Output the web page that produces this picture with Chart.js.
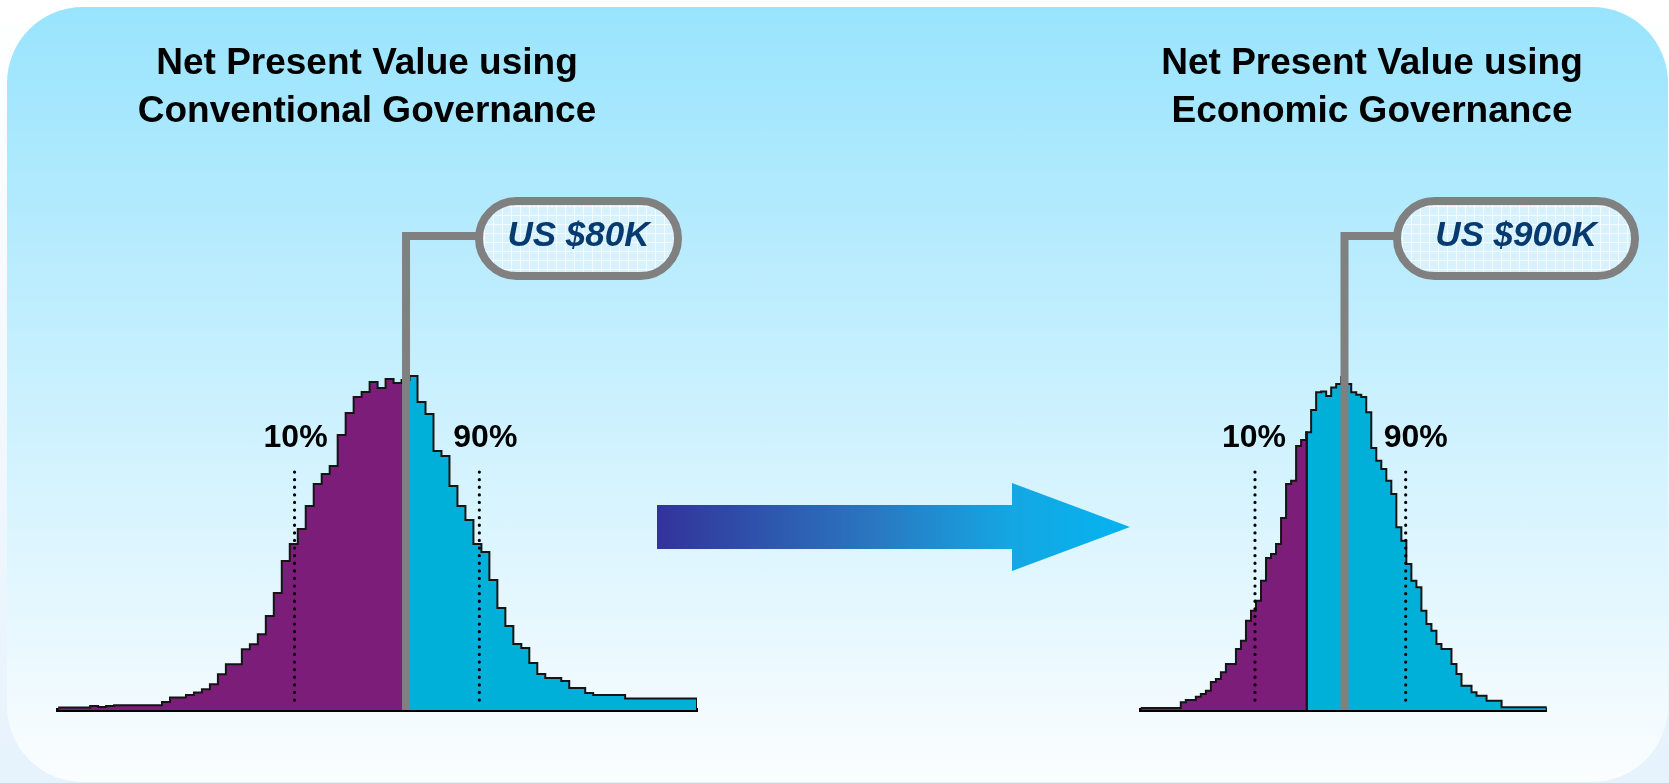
<!DOCTYPE html>
<html>
<head>
<meta charset="utf-8">
<script src="https://cdn.jsdelivr.net/npm/chart.js@4.4.1/dist/chart.umd.min.js"></script>
<style>
  html, body { margin: 0; padding: 0; }
  body {
    width: 1669px; height: 783px; overflow: hidden; position: relative;
    background: linear-gradient(#ffffff, #e6f2fc);
    font-family: "Liberation Sans", Arial, sans-serif;
  }
  #panel {
    position: absolute; left: 7px; top: 7px; width: 1661px; height: 775px;
    border-radius: 76px; background: linear-gradient(#99e4fd, #fbfdff);
  }
  #arrow { position: absolute; left: 0; top: 0; }
  .wrap { position: absolute; top: 0; height: 783px; }
  #wrap-conventional { left: 20px; width: 700px; }
  #wrap-economic { left: 1100px; width: 569px; }
</style>
</head>
<body>
<div id="panel"></div>
<svg id="arrow" width="1669" height="783">
  <defs>
    <linearGradient id="arrowFill" gradientUnits="userSpaceOnUse" x1="657" y1="0" x2="1130" y2="0">
      <stop offset="0" stop-color="#32339a"/>
      <stop offset="0.45" stop-color="#2a76bf"/>
      <stop offset="0.75" stop-color="#14a7e3"/>
      <stop offset="1" stop-color="#05b3ef"/>
    </linearGradient>
  </defs>
  <polygon fill="url(#arrowFill)" points="657,505 1012,505 1012,483 1130,527 1012,571 1012,549 657,549"/>
</svg>
<div class="wrap" id="wrap-conventional"><canvas id="chart-conventional"></canvas></div>
<div class="wrap" id="wrap-economic"><canvas id="chart-economic"></canvas></div>

<script>
// NPV histograms (bin index on x, frequency on y)
const conventionalBins = [
  2.4, 2.4, 2.4, 2.4, 4, 3, 4, 4.7, 4.7, 4.7,
  4.7, 4.7, 4.7, 8, 12.4, 12.4, 15, 17.4, 20.7, 25.7,
  35.7, 45.7, 45.7, 60.7, 65.7, 75.7, 94, 117, 149, 166,
  181, 204, 226, 236, 244, 275, 297, 313, 318, 328,
  322, 331, 327, 330, 334, 308, 296, 259, 254, 224,
  204, 190, 166, 158, 130, 102, 84, 66, 62, 47,
  36, 32, 32, 29, 22, 22, 17, 15, 15, 15,
  15, 11.4, 11.4, 11.4, 11.4, 11.4, 11.4, 11.4, 11.4, 11.4
];
const conventionalSplit = 43.56;
const conventionalMedian = 43.56;
const conventionalPercentiles = [29.6, 52.74];
const conventionalValue = 'US $80K';
const conventionalTitle = ['Net Present Value using', 'Conventional Governance'];

const economicBins = [
  2, 2, 2, 2, 2, 2, 2, 2, 7.7, 10,
  10, 13.3, 16, 19.3, 28, 31, 37.7, 46, 46, 61,
  69.3, 89.3, 99.3, 109.3, 129.3, 152, 156, 166, 192, 226,
  229.3, 264, 270, 277.7, 300, 317.7, 318.5, 314, 322.4, 326,
  333, 326, 317.7, 315.3, 313, 297.7, 262, 249.3, 241, 229.3,
  216, 182.7, 169.3, 146, 129.3, 122.7, 99.3, 86, 79.3, 66,
  61, 61, 46, 36, 24.3, 24.3, 17.7, 14.3, 14.3, 9.3,
  9.3, 9.3, 2.7, 2.7, 2.7, 2.7, 2.7, 2.7, 2.7, 2.7,
  2.7
];
const economicSplit = 33.12;
const economicMedian = 40.66;
const economicPercentiles = [22.8, 52.87];
const economicValue = 'US $900K';
const economicTitle = ['Net Present Value using', 'Economic Governance'];

const percentileLabels = ['10%', '90%'];

const purple = '#7d1d7a';
const cyan = '#00b0d9';
const grey = '#808080';

// stepped outline of bins between two x values, closed down to zero
const stepPoints = (bins, from, to) => {
  const pts = [{ x: from, y: 0 }, { x: from, y: bins[Math.floor(from)] }];
  for (let i = Math.floor(from) + 1; i < Math.ceil(to); i++) {
    pts.push({ x: i, y: bins[i] });
  }
  pts.push({ x: to, y: 0 });
  return pts;
};

const pillPath = (ctx, pill) => {
  const b = pill.border;
  ctx.beginPath();
  ctx.roundRect(pill.left + b / 2, pill.top + b / 2, pill.width - b, pill.height - b, (pill.height - b) / 2);
};

const governanceMarks = {
  id: 'governanceMarks',
  afterDatasetsDraw(chart, args, opts) {
    const { ctx } = chart;
    const x = chart.scales.x;
    const y = chart.scales.y;
    ctx.save();

    // percentile markers
    ctx.strokeStyle = '#000';
    ctx.lineWidth = 3.2;
    ctx.lineCap = 'round';
    ctx.setLineDash([0.1, 7.5]);
    opts.percentiles.forEach((p, i) => {
      const px = x.getPixelForValue(p);
      ctx.beginPath();
      ctx.moveTo(px, y.getPixelForValue(238));
      ctx.lineTo(px, y.getPixelForValue(3));
      ctx.stroke();
      ctx.save();
      ctx.setLineDash([]);
      ctx.fillStyle = '#000';
      ctx.font = 'bold 32px "Liberation Sans", Arial, sans-serif';
      ctx.textAlign = 'center';
      ctx.textBaseline = 'middle';
      ctx.fillText(percentileLabels[i], px + opts.labelShift[i], y.getPixelForValue(272));
      ctx.restore();
    });
    ctx.setLineDash([]);

    // median line and connector to value box
    const pill = opts.pill;
    const mx = x.getPixelForValue(opts.median);
    ctx.strokeStyle = grey;
    ctx.lineWidth = 8;
    ctx.lineCap = 'butt';
    ctx.lineJoin = 'miter';
    ctx.beginPath();
    ctx.moveTo(mx, y.getPixelForValue(0));
    ctx.lineTo(mx, pill.connectorY);
    ctx.lineTo(pill.left + 4, pill.connectorY);
    ctx.stroke();

    // value box with faint grid
    pillPath(ctx, pill);
    ctx.fillStyle = '#d8f2fd';
    ctx.fill();
    ctx.save();
    ctx.clip();
    ctx.strokeStyle = 'rgba(255,255,255,0.75)';
    ctx.lineWidth = 1;
    for (let gx = pill.left; gx < pill.left + pill.width; gx += 9) {
      ctx.beginPath(); ctx.moveTo(gx + 0.5, pill.top); ctx.lineTo(gx + 0.5, pill.top + pill.height); ctx.stroke();
    }
    for (let gy = pill.top; gy < pill.top + pill.height; gy += 9) {
      ctx.beginPath(); ctx.moveTo(pill.left, gy + 0.5); ctx.lineTo(pill.left + pill.width, gy + 0.5); ctx.stroke();
    }
    ctx.restore();
    pillPath(ctx, pill);
    ctx.lineWidth = pill.border;
    ctx.strokeStyle = grey;
    ctx.stroke();

    ctx.fillStyle = '#073b70';
    ctx.font = 'italic bold 35px "Liberation Sans", Arial, sans-serif';
    ctx.textAlign = 'center';
    ctx.textBaseline = 'middle';
    ctx.fillText(opts.value, pill.left + pill.width / 2, pill.top + pill.height / 2 - 2);
    ctx.restore();
  }
};

const hiddenAxis = (width, position) => ({
  position,
  display: true,
  grid: { display: false, drawTicks: false },
  ticks: { display: false },
  border: { display: false },
  afterFit: (scale) => { scale.width = width; }
});

const drawHistogram = (canvasId, cfg) => new Chart(document.getElementById(canvasId), {
  type: 'line',
  data: {
    datasets: [
      { data: stepPoints(cfg.bins, 0, cfg.split), backgroundColor: purple, fill: 'origin' },
      { data: stepPoints(cfg.bins, cfg.split, cfg.bins.length), backgroundColor: cyan, fill: 'origin' }
    ]
  },
  options: {
    responsive: true,
    maintainAspectRatio: false,
    animation: false,
    layout: { padding: { top: 0, left: 0, right: cfg.padRight, bottom: 73 } },
    elements: {
      point: { radius: 0 },
      line: { stepped: 'before', borderWidth: 2, borderColor: '#151515', borderJoinStyle: 'miter' }
    },
    scales: {
      x: {
        type: 'linear', min: 0, max: cfg.bins.length, z: 1,
        grid: { display: false, drawTicks: false },
        ticks: { display: false },
        border: { display: true, color: '#000', width: 4 }
      },
      y: { min: 0, max: 340, ...hiddenAxis(cfg.gutterLeft, 'left') },
      y2: hiddenAxis(cfg.gutterRight, 'right')
    },
    plugins: {
      legend: { display: false },
      tooltip: { enabled: false },
      title: {
        display: true,
        text: cfg.title,
        color: '#000',
        font: { family: '"Liberation Sans", Arial, sans-serif', size: 37, weight: 'bold', lineHeight: '48px' },
        padding: { top: 40, bottom: 234 }
      },
      governanceMarks: {
        median: cfg.median,
        percentiles: cfg.percentiles,
        labelShift: cfg.labelShift,
        value: cfg.value,
        pill: cfg.pill
      }
    }
  },
  plugins: [governanceMarks]
});

drawHistogram('chart-conventional', {
  bins: conventionalBins,
  split: conventionalSplit,
  median: conventionalMedian,
  percentiles: conventionalPercentiles,
  value: conventionalValue,
  title: conventionalTitle,
  labelShift: [1, 6],
  padRight: 6, gutterLeft: 38.2, gutterRight: 17,
  pill: { left: 455, top: 197, width: 207, height: 83, border: 8, connectorY: 236 }
});

drawHistogram('chart-economic', {
  bins: economicBins,
  split: economicSplit,
  median: economicMedian,
  percentiles: economicPercentiles,
  value: economicValue,
  title: economicTitle,
  labelShift: [-1, 10],
  padRight: 25, gutterLeft: 40.7, gutterRight: 97.3,
  pill: { left: 293, top: 197, width: 246, height: 83, border: 8, connectorY: 236 }
});
</script>
</body>
</html>
